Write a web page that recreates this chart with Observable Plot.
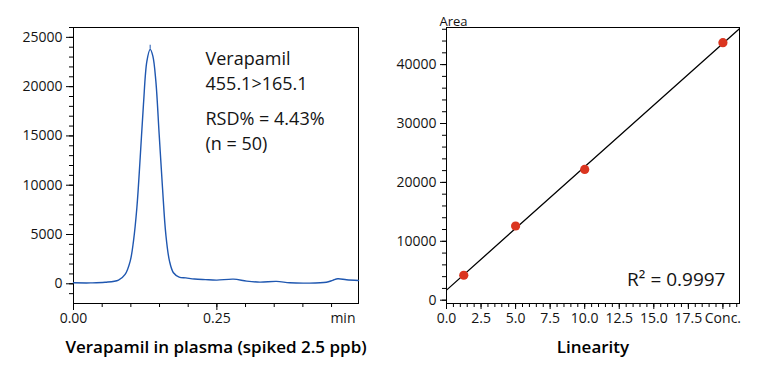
<!DOCTYPE html>
<html><head><meta charset="utf-8">
<script src="https://cdn.jsdelivr.net/npm/d3@7"></script>
<script src="https://cdn.jsdelivr.net/npm/@observablehq/plot@0.6"></script>
<style>
body{margin:0;background:#fff;}
#wrap{display:flex;width:761px;height:387px;overflow:hidden;}
</style></head><body><div id="wrap"></div>
<script>
// ---- Chromatogram (left) ----
const time = [0, 0.03, 0.055, 0.0785, 0.09, 0.0989, 0.1046, 0.1105, 0.1163, 0.122, 0.128, 0.1337, 0.1384, 0.1436, 0.1494, 0.1552, 0.161, 0.1674, 0.1743, 0.1843, 0.196, 0.211, 0.23, 0.25, 0.279, 0.302, 0.325, 0.354, 0.377, 0.406, 0.441, 0.452, 0.461, 0.476, 0.497];
const intensity = [100, 90, 150, 375, 950, 2300, 4330, 7710, 12780, 18200, 22590, 23780, 23100, 20560, 15160, 9740, 5010, 2300, 1120, 680, 600, 480, 420, 375, 475, 275, 170, 240, 105, 70, 150, 350, 510, 410, 340];
const peakApexTime = [0.1337];
const peakApexTop = [24200];
const chromXDomain = [0, 0.497];
const chromYDomain = [-2000, 26000];
const chromXMajor = [0, 0.25];
const chromXMinor = d3.range(0, 0.4971, 0.05);
const chromYMajor = [0, 5000, 10000, 15000, 20000, 25000];
const chromYMinor = d3.range(-1000, 26001, 1000);
const chromLabels = ["Verapamil", "455.1>165.1", "RSD% = 4.43%", "(n = 50)"];
const chromUnit = "min";
const chromCaption = "Verapamil in plasma (spiked 2.5 ppb)";

// ---- Linearity (right) ----
const conc = [1.25, 5, 10, 20];
const area = [4240, 12600, 22200, 43730];
const linXDomain = [0, 21.2];
const linYDomain = [-560, 46300];
const concTicks = [0, 2.5, 5, 7.5, 10, 12.5, 15, 17.5, 20];
const concTickLabels = ["0.0", "2.5", "5.0", "7.5", "10.0", "12.5", "15.0", "17.5", "Conc."];
const concMinor = d3.range(0, 21.01, 0.5);
const areaTicks = [0, 10000, 20000, 30000, 40000];
const areaMinor = d3.range(0, 46001, 2000);
const r2Label = "R² = 0.9997";
const areaLabel = "Area";
const linCaption = "Linearity";

const FONT = "'Open Sans', sans-serif";
const TXT = "#141414";

const chrom = time.map((t, i) => ({t, v: intensity[i]}));
const apex = peakApexTime.map((t, i) => ({t, top: peakApexTop[i], base: d3.max(intensity)}));

// least-squares fit
const mx = d3.mean(conc), my = d3.mean(area);
const slope = d3.sum(conc, (x, i) => (x - mx) * (area[i] - my)) / d3.sum(conc, x => (x - mx) ** 2);
const intercept = my - slope * mx;
const fitLine = linXDomain.map(x => ({x, y: intercept + slope * x}));
const pts = conc.map((x, i) => ({x, y: area[i]}));

// vertical offsets (px from frame top) of the annotation lines' cap tops
const labelOffsets = [25, 49.5, 85, 109.5];

const left = Plot.plot({
  width: 380, height: 387,
  marginLeft: 73, marginRight: 22, marginTop: 27, marginBottom: 84,
  style: {fontFamily: FONT, fontSize: "14px", color: TXT, background: "#fff"},
  x: {domain: chromXDomain},
  y: {domain: chromYDomain},
  marks: [
    Plot.axisY(chromYMinor, {tickSize: 4, tickFormat: () => "", label: null, stroke: "#000"}),
    Plot.axisY(chromYMajor, {tickSize: 7, tickPadding: 4, tickFormat: d3.format("d"), label: null, stroke: "#000", fontSize: 14}),
    Plot.axisX(chromXMinor, {tickSize: 4, tickFormat: () => "", label: null, stroke: "#000"}),
    Plot.axisX(chromXMajor, {tickSize: 7, tickPadding: 3, tickFormat: d3.format(".2f"), label: null, stroke: "#000", fontSize: 14}),
    Plot.frame({stroke: "#000"}),
    Plot.line(chrom, {x: "t", y: "v", stroke: "#1f57b0", strokeWidth: 1.4, curve: "catmull-rom"}),
    Plot.ruleX(apex, {x: "t", y1: "base", y2: "top", stroke: "#1f57b0", strokeWidth: 1}),
    ...chromLabels.map((s, i) => Plot.text([s], {frameAnchor: "top-left", textAnchor: "start", lineAnchor: "top", dx: 132, dy: labelOffsets[i], fontSize: 18, fill: TXT})),
    Plot.text([chromUnit], {frameAnchor: "bottom-right", textAnchor: "end", lineAnchor: "top", dx: -3, dy: 10, fontSize: 14, fill: TXT}),
    Plot.text([chromCaption], {frameAnchor: "bottom", textAnchor: "middle", lineAnchor: "middle", dy: 44, fontSize: 17, fontWeight: 600, fill: "#000"})
  ]
});

const right = Plot.plot({
  width: 381, height: 387,
  marginLeft: 66, marginRight: 22, marginTop: 27, marginBottom: 84,
  style: {fontFamily: FONT, fontSize: "14px", color: TXT, background: "#fff"},
  x: {domain: linXDomain},
  y: {domain: linYDomain},
  marks: [
    Plot.axisY(areaMinor, {tickSize: 4, tickFormat: () => "", label: null, stroke: "#000"}),
    Plot.axisY(areaTicks, {tickSize: 6, tickPadding: 4, tickFormat: d3.format("d"), label: null, stroke: "#000", fontSize: 14}),
    Plot.axisX(concMinor, {tickSize: 4, tickFormat: () => "", label: null, stroke: "#000"}),
    Plot.axisX(concTicks, {tickSize: 6, tickPadding: 4, tickFormat: d => concTickLabels[concTicks.indexOf(d)], label: null, stroke: "#000", fontSize: 14}),
    Plot.frame({stroke: "#000"}),
    Plot.line(fitLine, {x: "x", y: "y", stroke: "#000", strokeWidth: 1.3, clip: true}),
    Plot.dot(pts, {x: "x", y: "y", r: 4.6, fill: "#db3520", stroke: "none"}),
    Plot.text([r2Label], {frameAnchor: "bottom-right", textAnchor: "end", lineAnchor: "bottom", dx: -14, dy: -18, fontSize: 19, fill: TXT}),
    Plot.text([areaLabel], {frameAnchor: "top-left", textAnchor: "start", lineAnchor: "bottom", dx: -7, dy: -2, fontSize: 13, fill: TXT}),
    Plot.text([linCaption], {frameAnchor: "bottom", textAnchor: "middle", lineAnchor: "middle", dy: 44, fontSize: 17, fontWeight: 600, fill: "#000"})
  ]
});

document.getElementById("wrap").append(left, right);
</script></body></html>
